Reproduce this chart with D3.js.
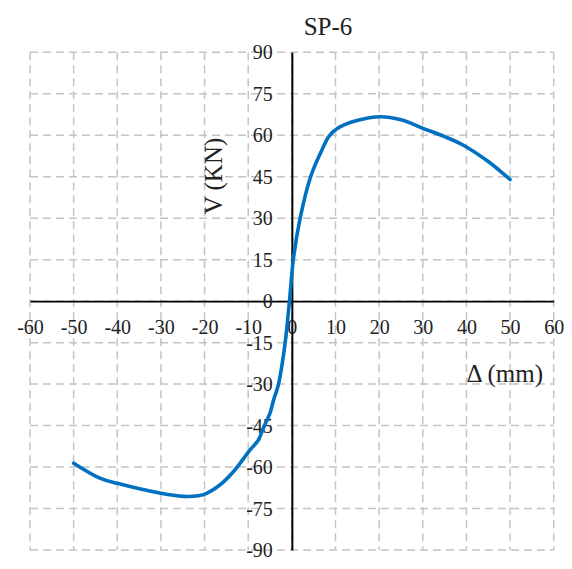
<!DOCTYPE html>
<html>
<head>
<meta charset="utf-8">
<script src="https://cdn.jsdelivr.net/npm/d3@7"></script>
<style>
  html, body { margin: 0; padding: 0; background: #fff; }
  svg { display: block; font-family: "Liberation Serif", "Times New Roman", serif; }
</style>
</head>
<body>
<svg id="chart" width="572" height="569"></svg>
<script>
// Load-displacement envelope for specimen SP-6
const title = "SP-6";
const displacement = [-50, -44, -40, -30, -25, -21.5, -19.5, -16.5, -13.4, -11, -9.8, -7.7, -6.4, -5, -4.2, -3.1, -1.55, -0.55,
                      0.35, 1.9, 4.3, 6.9, 8.5, 10.5, 14.9, 20.2, 25, 30.2, 35, 39.3, 45, 50];
const shear = [-58.6, -64, -65.9, -69.5, -70.6, -70.4, -69.5, -66.5, -61.7, -56.8, -54.2, -50.3, -45.4, -40.5, -35.8, -30.3, -15.2, 0,
               15.2, 30, 45, 54.7, 59.6, 62.5, 65.3, 66.7, 65.6, 62.4, 59.5, 56.4, 50.5, 44];
const xTicks = [-60, -50, -40, -30, -20, -10, 0, 10, 20, 30, 40, 50, 60];
const yTicks = [-90, -75, -60, -45, -30, -15, 0, 15, 30, 45, 60, 75, 90];
const xLabel = "Δ (mm)";
const yLabel = "V (KN)";

const svg = d3.select("#chart");
const plotLeft = 30, plotRight = 553.7, plotTop = 52.3, plotBottom = 550;

const x = d3.scaleLinear().domain([-60, 60]).range([plotLeft, plotRight]);
const y = d3.scaleLinear().domain([-90, 90]).range([plotBottom, plotTop]);

// plain hyphen for negative tick values
const fmt = d => String(d);

// dashed grid
const grid = svg.append("g")
  .attr("stroke", "#c4c4c4")
  .attr("stroke-width", 1.5)
  .attr("stroke-dasharray", "8,5")
  .attr("fill", "none");
grid.selectAll("line.v").data(xTicks).join("line")
  .attr("class", "v")
  .attr("x1", d => x(d)).attr("x2", d => x(d))
  .attr("y1", plotTop).attr("y2", plotBottom);
grid.selectAll("line.h").data(yTicks).join("line")
  .attr("class", "h")
  .attr("x1", plotLeft).attr("x2", plotRight)
  .attr("y1", d => y(d)).attr("y2", d => y(d));

// axes crossing at the origin
const xAxis = d3.axisBottom(x).tickValues(xTicks).tickSize(0).tickPadding(0).tickFormat(fmt);
const gx = svg.append("g").attr("transform", `translate(0,${y(0)})`).call(xAxis);
gx.attr("font-family", null);
gx.select(".domain").attr("stroke", "#000").attr("stroke-width", 1.6);
gx.selectAll("text")
  .attr("y", 0).attr("dy", null)
  .attr("transform", "translate(0,33)")
  .attr("font-size", 20)
  .attr("font-family", "Liberation Serif")
  .attr("fill", "#222");

const yAxis = d3.axisLeft(y).tickValues(yTicks).tickSize(0).tickPadding(0).tickFormat(fmt);
const gy = svg.append("g").attr("transform", `translate(${x(0)},0)`).call(yAxis);
gy.attr("font-family", null);
gy.select(".domain").attr("stroke", "#000").attr("stroke-width", 2);
gy.selectAll("text")
  .attr("x", -19).attr("dy", "0.33em")
  .attr("font-size", 20)
  .attr("font-family", "Liberation Serif")
  .attr("fill", "#222");

// curve
const pts = displacement.map((d, i) => [d, shear[i]]);
const line = d3.line()
  .x(d => x(d[0]))
  .y(d => y(d[1]))
  .curve(d3.curveCatmullRom.alpha(0.5));
svg.append("path")
  .datum(pts)
  .attr("d", line)
  .attr("fill", "none")
  .attr("stroke", "#0070c0")
  .attr("stroke-width", 3.6)
  .attr("stroke-linecap", "round")
  .attr("stroke-linejoin", "round");

// titles
svg.append("text")
  .attr("x", 328).attr("y", 35)
  .attr("text-anchor", "middle")
  .attr("font-size", 25)
  .attr("fill", "#222")
  .text(title);

svg.append("text")
  .attr("x", 543).attr("y", 382)
  .attr("text-anchor", "end")
  .attr("font-size", 25)
  .attr("fill", "#222")
  .text(xLabel);

svg.append("text")
  .attr("transform", "translate(222,176) rotate(-90)")
  .attr("text-anchor", "middle")
  .attr("font-size", 25)
  .attr("fill", "#222")
  .text(yLabel);
</script>
</body>
</html>
